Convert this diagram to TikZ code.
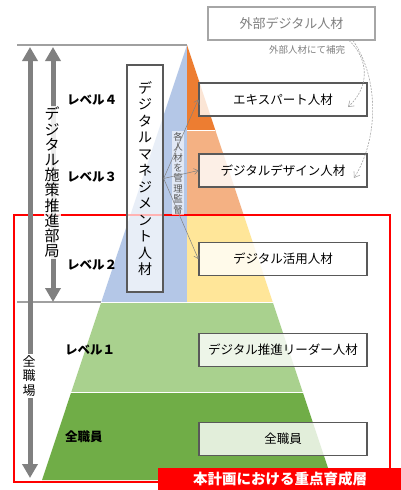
\documentclass[tikz,border=0pt]{standalone}
\usepackage{fontspec}
\setmainfont{Noto Sans CJK JP}
\usetikzlibrary{arrows.meta}
\definecolor{orng}{HTML}{ED7D31}
\definecolor{peach}{HTML}{F4B183}
\definecolor{yell}{HTML}{FFE699}
\definecolor{lgreen}{HTML}{A9D18E}
\definecolor{dgreen}{HTML}{70AD47}
\definecolor{pblue}{HTML}{B4C7E7}
\definecolor{boxgray}{HTML}{595959}
\definecolor{arrgray}{HTML}{808080}
\definecolor{ltgray}{HTML}{A6A6A6}
\definecolor{txtgray}{HTML}{7F7F7F}
\definecolor{linegray}{HTML}{A0A0A0}
\begin{document}
\begin{tikzpicture}[x=1pt,y=-1pt,
  lvl/.style={anchor=west,font=\bfseries\fontsize{12.5}{12.5}\selectfont,inner sep=0},
  rbox/.style={draw=boxgray,line width=1.3pt,fill=white,fill opacity=0.8,text opacity=1,minimum width=168pt,minimum height=33pt,inner sep=0,font=\fontsize{12.5}{12.5}\selectfont},
  bigarrow/.style={draw=arrgray,line width=5pt,{Triangle[length=14pt,width=15pt]}-{Triangle[length=14pt,width=15pt]}},
  thinarrow/.style={draw=arrgray,line width=0.5pt,-{Straight Barb[length=4pt,width=6pt]}},
  dasharrow/.style={draw=ltgray,line width=0.6pt,dash pattern=on 2pt off 1.2pt,-{Straight Barb[length=5pt,width=7pt]}},
  vlabel/.style={align=center,inner sep=1pt,fill=white,fill opacity=0.85,text opacity=1}
]
\useasboundingbox (0,0) rectangle (401,490);
\fill[white] (0,0) rectangle (401,490);
% pyramid
\coordinate (apex) at (187,45);
\fill[pblue] (apex) -- (101.33,302) -- (187,302) -- cycle;
\fill[orng] (apex) -- (215.33,130) -- (187,130) -- cycle;
\fill[peach] (187,130) -- (215.33,130) -- (243.67,215) -- (187,215) -- cycle;
\fill[yell] (187,215) -- (243.67,215) -- (272.67,302) -- (187,302) -- cycle;
\fill[lgreen] (101.33,302) -- (272.67,302) -- (302.67,392) -- (71.33,392) -- cycle;
\fill[dgreen] (71.33,392) -- (302.67,392) -- (332,480) -- (42,480) -- cycle;
\draw[white,line width=0.8pt] (187,130) -- (215.33,130);
\draw[white,line width=0.8pt] (101.33,302) -- (272.67,302);
\draw[white,line width=0.8pt] (71.33,392) -- (302.67,392);
% red frame
\draw[red,line width=2pt] (14,215) rectangle (390,482);
% gray guide lines
\coordinate (tl) at (17,45);
\coordinate (ml) at (17,302);
\coordinate (mr) at (101.33,302);
\draw[linegray,line width=1.2pt] (tl) -- (apex);
\draw[linegray,line width=1.2pt] (ml) -- (mr);
% left arrows
\coordinate (oa1) at (30,47);
\coordinate (oa2) at (30,478);
\coordinate (ia1) at (53,47);
\coordinate (ia2) at (53,302);
\draw[bigarrow] (oa1) -- (oa2);
\draw[bigarrow] (ia1) -- (ia2);
\node[vlabel,font=\fontsize{15}{15.2}\selectfont] (dept) at (52,182.5) {デ\\ジ\\タ\\ル\\施\\策\\推\\進\\部\\局};
\node[vlabel,font=\fontsize{13}{14.5}\selectfont,fill opacity=1] (all) at (29,376) {全\\職\\場};
% level labels
\node[lvl] (l4) at (67,100) {レベル４};
\node[lvl] (l3) at (67,177) {レベル３};
\node[lvl] (l2) at (67,265) {レベル２};
\node[lvl] (l1) at (65,350) {レベル１};
\node[lvl] (l0) at (65,437) {全職員};
% management box
\node[draw=boxgray,line width=1.3pt,fill=white,fill opacity=0.7,text opacity=1,minimum width=36pt,minimum height=227pt,inner sep=0,align=center,font=\fontsize{14}{16.5}\selectfont] (mgmt) at (145,178.5) {デ\\ジ\\タ\\ル\\マ\\ネ\\ジ\\メ\\ン\\ト\\人\\材};
\node[align=center,inner sep=1.2pt,fill=white,fill opacity=0.6,text opacity=1,font=\fontsize{9.5}{10.4}\selectfont,text=boxgray] (sup) at (178,173) {各\\人\\材\\を\\管\\理\\監\\督};
% right boxes
\node[rbox] (expert) at (283,99.5) {エキスパート人材};
\node[rbox] (design) at (283,170.5) {デジタルデザイン人材};
\node[rbox] (use) at (283,259) {デジタル活用人材};
\node[rbox] (leader) at (283,350) {デジタル推進リーダー人材};
\node[rbox] (staff) at (283,439) {全職員};
% management arrows
\draw[thinarrow] (mgmt.east) -- (expert.west);
\draw[thinarrow] (mgmt.east) -- (design.west);
\draw[thinarrow] (mgmt.east) -- (use.west);
% external
\node[draw=ltgray,line width=1.2pt,minimum width=167pt,minimum height=33pt,inner sep=0,text=txtgray,font=\fontsize{13}{13}\selectfont] (ext) at (291.5,23.5) {外部デジタル人材};
\node[text=txtgray,inner sep=0,font=\fontsize{9.5}{9.5}\selectfont] (extlbl) at (307,50) {外部人材にて補完};
\coordinate (d1s) at (349,40.5);
\coordinate (d1e) at (348,107);
\coordinate (d2s) at (353,40.5);
\coordinate (d2e) at (354,178);
\draw[dasharrow] (d1s) .. controls (370,60) and (369,88) .. (d1e);
\draw[dasharrow] (d2s) .. controls (380,80) and (378,140) .. (d2e);
% banner
\fill[red] (158,468) rectangle (401,490);
\node[text=white,inner sep=0,font=\bfseries\fontsize{14.5}{14.5}\selectfont] (banner) at (280,479) {本計画における重点育成層};
\end{tikzpicture}
\end{document}
